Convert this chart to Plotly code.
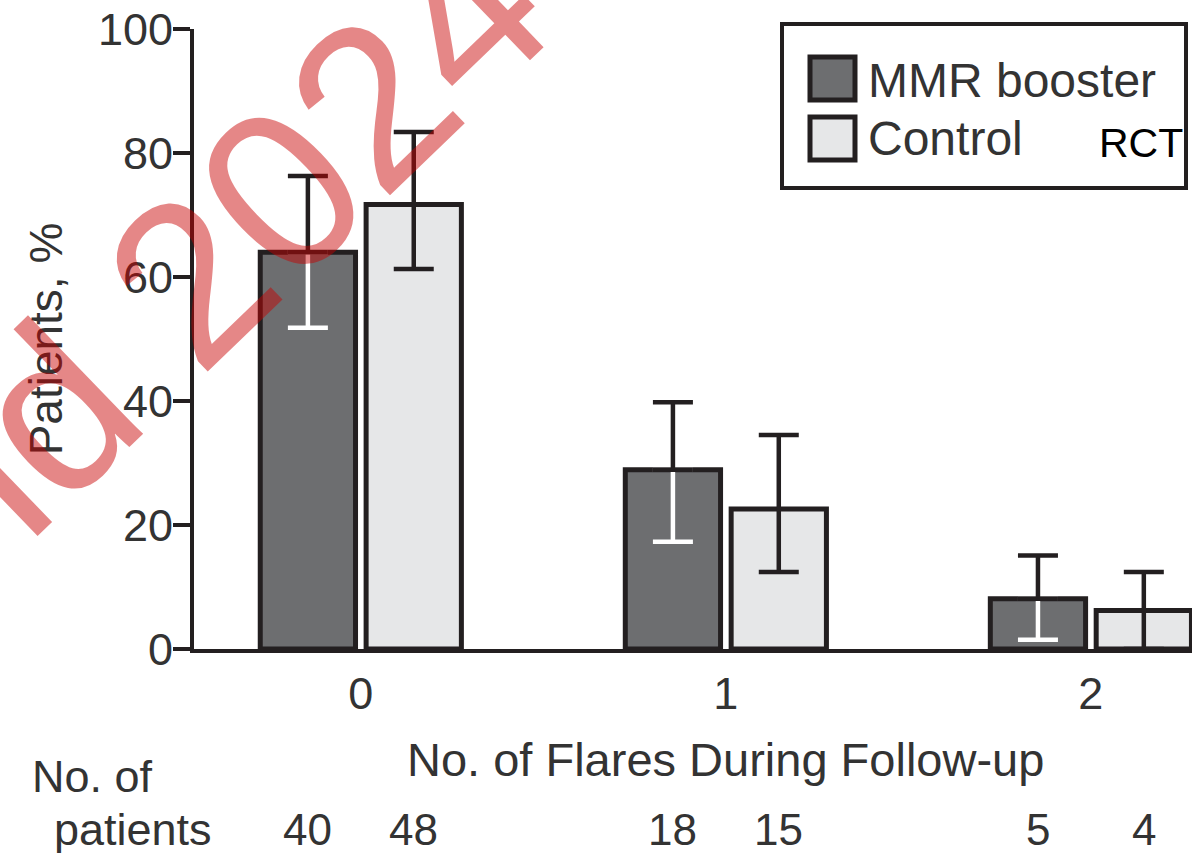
import plotly.graph_objects as go

# Share of patients by number of flares during follow-up
flares = ["0", "1", "2"]
series_names = ["MMR booster", "Control"]
mmr_pct = [64.0, 28.9, 8.1]
mmr_upper = [76.3, 39.8, 15.1]
mmr_lower = [51.8, 17.3, 1.5]
ctrl_pct = [71.7, 22.6, 6.2]
ctrl_upper = [83.4, 34.5, 12.4]
ctrl_lower = [61.3, 12.4, 0.0]
mmr_n = [40, 18, 5]
ctrl_n = [48, 15, 4]
y_ticks = [0, 20, 40, 60, 80, 100]

INK = "#231f20"
TXT = "#333333"
DARK = "#6d6e70"
LIGHT = "#e6e7e8"
SANS = "Liberation Sans, Arial, Helvetica, sans-serif"
BARGAP = 0.42

# page geometry (pixels) of the plotting area
W, H = 1192, 853
L, R, T, B = 194, 0, 29, 204
PW, PH = W - L - R, H - T - B


def px(x):
    return (x - L) / PW


def py(y):
    return (H - B - y) / PH


mmr_plus = [u - v for u, v in zip(mmr_upper, mmr_pct)]
mmr_minus = [v - d for v, d in zip(mmr_pct, mmr_lower)]
ctrl_plus = [u - v for u, v in zip(ctrl_upper, ctrl_pct)]
ctrl_minus = [v - d for v, d in zip(ctrl_pct, ctrl_lower)]
zeros = [0] * len(flares)

fig = go.Figure()

fig.add_trace(go.Bar(
    x=flares, y=mmr_pct, name=series_names[0], offsetgroup="mmr",
    marker=dict(color=DARK, line=dict(color=INK, width=5)),
    showlegend=False,
))
fig.add_trace(go.Bar(
    x=flares, y=ctrl_pct, name=series_names[1], offsetgroup="ctrl",
    marker=dict(color=LIGHT, line=dict(color=INK, width=5)),
    error_y=dict(type="data", symmetric=False, array=ctrl_plus,
                 arrayminus=ctrl_minus, color=INK, thickness=4.5, width=20),
    showlegend=False,
))
# lower half of the booster interval, drawn in white over the dark fill
fig.add_trace(go.Bar(
    x=flares, y=mmr_pct, offsetgroup="mmr", hoverinfo="skip",
    marker=dict(color="rgba(0,0,0,0)", line=dict(width=0)),
    error_y=dict(type="data", symmetric=False, array=zeros,
                 arrayminus=mmr_minus, color="white", thickness=4.5, width=20),
    showlegend=False,
))
# upper half of the booster interval in black
fig.add_trace(go.Bar(
    x=flares, y=mmr_pct, offsetgroup="mmr", hoverinfo="skip",
    marker=dict(color="rgba(0,0,0,0)", line=dict(width=0)),
    error_y=dict(type="data", symmetric=False, array=mmr_plus,
                 arrayminus=zeros, color=INK, thickness=4.5, width=20),
    showlegend=False,
))

annotations = []
# patient counts under each bar
slot = (1 - BARGAP) / 2
for i in range(len(flares)):
    for n, off in ((mmr_n[i], -slot / 2), (ctrl_n[i], slot / 2)):
        annotations.append(dict(
            x=i + off, y=py(829), xref="x", yref="paper", text=str(n),
            showarrow=False, xanchor="center", yanchor="middle",
            font=dict(family=SANS, size=44, color=TXT)))
annotations.append(dict(x=px(30), y=py(776), xref="paper", yref="paper",
                        text="No. of", showarrow=False, xanchor="left",
                        yanchor="middle",
                        font=dict(family=SANS, size=45, color=TXT)))
annotations.append(dict(x=px(52), y=py(829), xref="paper", yref="paper",
                        text="patients", showarrow=False, xanchor="left",
                        yanchor="middle",
                        font=dict(family=SANS, size=45, color=TXT)))

# x-axis title, centred under the middle group
annotations.append(dict(x=1, y=py(759), xref="x", yref="paper",
                        text="No. of Flares During Follow-up", showarrow=False,
                        xanchor="center", yanchor="middle",
                        font=dict(family=SANS, size=47, color=TXT)))

# legend box contents
annotations.append(dict(x=px(866), y=py(80), xref="paper", yref="paper",
                        text=series_names[0], showarrow=False, xanchor="left",
                        yanchor="middle",
                        font=dict(family=SANS, size=48, color=TXT)))
annotations.append(dict(x=px(866), y=py(138), xref="paper", yref="paper",
                        text=series_names[1], showarrow=False, xanchor="left",
                        yanchor="middle",
                        font=dict(family=SANS, size=48, color=TXT)))
annotations.append(dict(x=px(1097), y=py(143), xref="paper", yref="paper",
                        text="RCT", showarrow=False, xanchor="left",
                        yanchor="middle",
                        font=dict(family=SANS, size=41, color="black")))

# diagonal watermark
annotations.append(dict(x=px(167), y=py(301), xref="paper", yref="paper",
                        text="and 2024", showarrow=False, textangle=-44,
                        xanchor="center", yanchor="middle",
                        font=dict(family=SANS, size=228,
                                  color="rgba(200,0,0,0.47)")))

shapes = [
    dict(type="rect", xref="paper", yref="paper", x0=px(782), x1=px(1186),
         y0=py(188), y1=py(24), line=dict(color=INK, width=4),
         fillcolor="white", layer="below"),
    dict(type="rect", xref="paper", yref="paper", x0=px(810), x1=px(855),
         y0=py(100), y1=py(57), line=dict(color=INK, width=5),
         fillcolor=DARK),
    dict(type="rect", xref="paper", yref="paper", x0=px(810), x1=px(855),
         y0=py(160), y1=py(117), line=dict(color=INK, width=5),
         fillcolor=LIGHT),
]

fig.update_layout(
    width=W, height=H,
    margin=dict(l=L, r=R, t=T, b=B, autoexpand=False),
    paper_bgcolor="white", plot_bgcolor="white",
    barmode="group", bargap=BARGAP, bargroupgap=0.1,
    showlegend=False,
    annotations=annotations, shapes=shapes,
    xaxis=dict(
        type="category", categoryorder="array", categoryarray=flares,
        range=[-0.457, 2.277], showgrid=False, zeroline=False,
        showline=True, linecolor=INK, linewidth=4,
        ticks="", ticklabelstandoff=2,
        tickfont=dict(family=SANS, size=45, color=TXT),
    ),
    yaxis=dict(
        range=[0, 100], tickvals=y_ticks, showgrid=False, zeroline=False,
        showline=True, linecolor=INK, linewidth=4,
        ticks="outside", ticklen=17, tickwidth=4, tickcolor=INK,
        ticklabelstandoff=-9,
        tickfont=dict(family=SANS, size=45, color=TXT),
        title=dict(text="Patients, %", standoff=22,
                   font=dict(family=SANS, size=46, color=TXT)),
    ),
)

fig.write_html("out.html")
